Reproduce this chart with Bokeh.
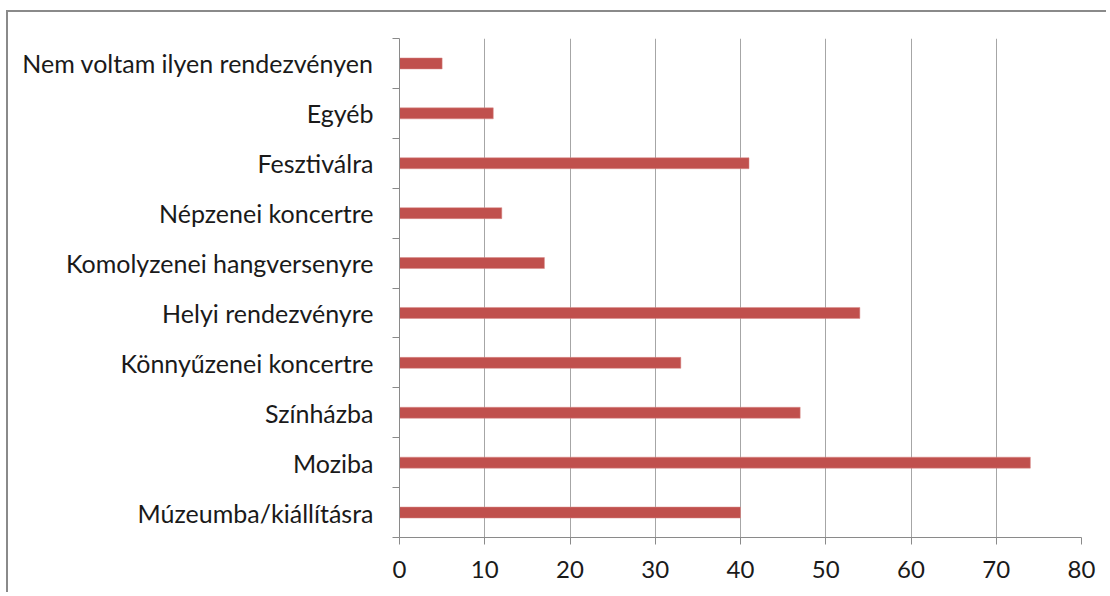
from bokeh.plotting import figure
from bokeh.models import FixedTicker, Range1d, ColumnDataSource
from bokeh.embed import file_html
from bokeh.resources import INLINE

categories = ["Múzeumba/kiállításra", "Moziba", "Színházba", "Könnyűzenei koncertre",
              "Helyi rendezvényre", "Komolyzenei hangversenyre", "Népzenei koncertre",
              "Fesztiválra", "Egyéb", "Nem voltam ilyen rendezvényen"]
values = [40, 74, 47, 33, 54, 17, 12, 41, 11, 5]
x_ticks = [0, 10, 20, 30, 40, 50, 60, 70, 80]

ypos = [i + 0.5 for i in range(len(categories))]
src = ColumnDataSource(dict(y=ypos, v=values, cat=categories))

p = figure(width=1100, height=582, output_backend="svg", toolbar_location=None,
           x_range=Range1d(0, 80), y_range=Range1d(0, len(categories)),
           min_border_left=391, min_border_right=27, min_border_top=26, min_border_bottom=57,
           styles={"border-left": "2px solid #8a8a8a", "border-top": "2px solid #8a8a8a",
                   "margin-left": "6px", "margin-top": "10px"})
p.outline_line_color = None
p.background_fill_color = "white"
p.border_fill_color = "white"

p.hbar(y="y", right="v", left=0, height=0.22, source=src, fill_color="#c0504d",
       line_color="#d98a88", line_width=0.5)

# x axis
p.xaxis.ticker = FixedTicker(ticks=x_ticks)
p.xaxis.axis_line_color = "#8a8a8a"
p.xaxis.major_tick_line_color = "#8a8a8a"
p.xaxis.major_tick_out = 7
p.xaxis.major_tick_in = 0
p.xaxis.minor_tick_line_color = None
p.xaxis.major_label_text_font = "Lato"
p.xaxis.major_label_text_font_size = "24px"
p.xaxis.major_label_text_color = "#1a1a1a"
p.xaxis.major_label_standoff = 16

# y axis
p.yaxis.ticker = FixedTicker(ticks=ypos, minor_ticks=list(range(len(categories) + 1)))
p.yaxis.major_label_overrides = {y: c for y, c in zip(ypos, categories)}
p.yaxis.axis_line_color = "#8a8a8a"
p.yaxis.major_tick_line_color = None
p.yaxis.minor_tick_line_color = "#8a8a8a"
p.yaxis.minor_tick_out = 7
p.yaxis.minor_tick_in = 0
p.yaxis.major_label_text_font = "Lato"
p.yaxis.major_label_text_font_size = "25px"
p.yaxis.major_label_text_color = "#1a1a1a"
p.yaxis.major_label_standoff = 19

p.xgrid.ticker = FixedTicker(ticks=x_ticks[1:])
p.xgrid.grid_line_color = "#a6a6a6"
p.ygrid.grid_line_color = None

open("out.html", "w").write(file_html(p, INLINE))
